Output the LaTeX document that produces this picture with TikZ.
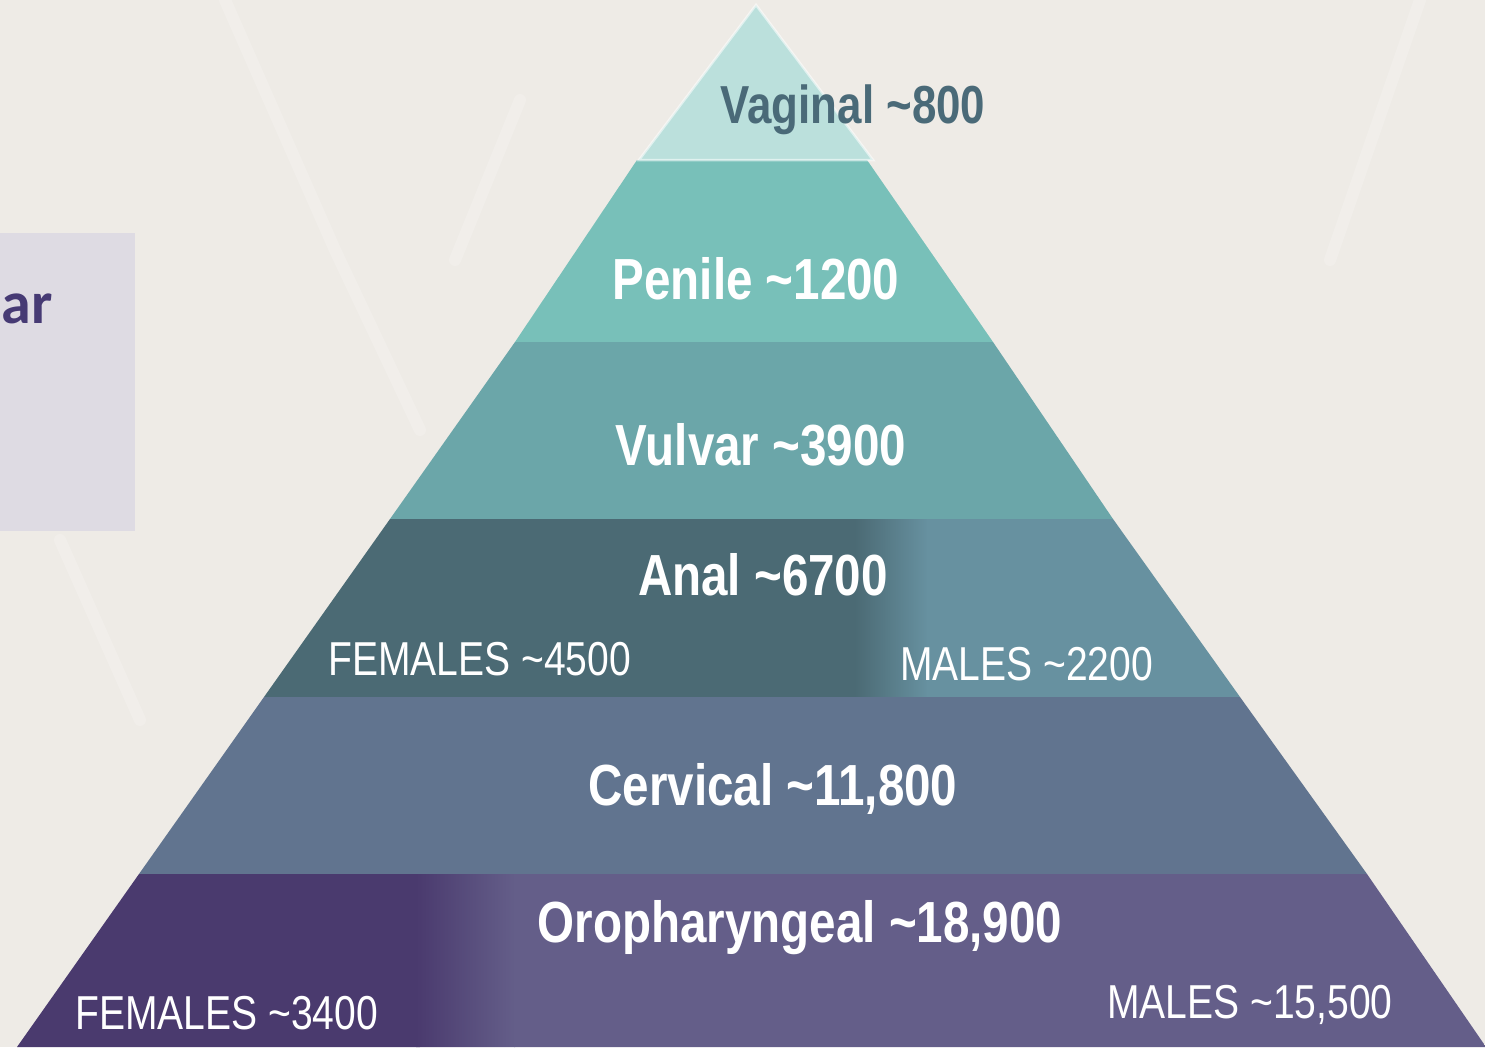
\documentclass[tikz,border=0pt]{standalone}
\usepackage{fontspec}
\newfontfamily\narrowfont[FakeStretch=0.82]{Liberation Sans}
\newfontfamily\carlitofont{Carlito}
\definecolor{bg}{HTML}{EEEBE6}
\definecolor{boxc}{HTML}{DEDBE3}
\definecolor{arc}{HTML}{463A74}
\definecolor{vagc}{HTML}{BBE0DC}
\definecolor{vagtext}{HTML}{4A6A78}
\definecolor{penc}{HTML}{78C0B9}
\definecolor{vulc}{HTML}{6BA6A9}
\definecolor{analL}{HTML}{4B6A74}
\definecolor{analR}{HTML}{6791A0}
\definecolor{cervc}{HTML}{61748F}
\definecolor{oroL}{HTML}{4A3A6E}
\definecolor{oroR}{HTML}{645E89}
\tikzset{
  biglabel/.style={anchor=base, inner sep=0pt, text=white, font=\narrowfont\bfseries\fontsize{58}{58}\selectfont},
  smalllabel/.style={anchor=base west, inner sep=0pt, text=white, font=\narrowfont\fontsize{47.6}{47.6}\selectfont},
  streak/.style={white, opacity=0.18, line width=12pt, line cap=round}
}
\begin{document}
\begin{tikzpicture}[x=1pt,y=-1pt]
\useasboundingbox (0,0) rectangle (1485,1047);
\fill[bg] (0,0) rectangle (1485,1047);
% faint background streaks
\draw[streak] (225,0) -- (335,250) -- (420,430);
\draw[streak] (520,100) -- (455,260);
\draw[streak] (1420,0) -- (1330,260);
\draw[streak] (60,540) -- (140,720);
% left box
\fill[boxc] (0,233) rectangle (135,531);
\node[anchor=base east, inner sep=0pt, text=arc, font=\carlitofont\bfseries\fontsize{60}{60}\selectfont] (ar) at (53,323) {ar};
% pyramid bands
\fill[penc] (637,160) -- (867,160) -- (993,342) -- (515,342) -- cycle;
\fill[vulc] (515,342) -- (993,342) -- (1113,519) -- (390,519) -- cycle;
\begin{scope}
  \clip (390,519) -- (1113,519) -- (1240,697) -- (264,697) -- cycle;
  \fill[analL] (250,515) rectangle (860,700);
  \shade[left color=analL, right color=analR] (855,515) rectangle (928,700);
  \fill[analR] (927,515) rectangle (1250,700);
\end{scope}
\fill[cervc] (264,697) -- (1240,697) -- (1367,874) -- (139,874) -- cycle;
\begin{scope}
  \clip (139,874) -- (1367,874) -- (1486,1047) -- (17,1047) -- cycle;
  \fill[oroL] (10,870) rectangle (420,1050);
  \shade[left color=oroL, right color=oroR] (416,870) rectangle (515,1050);
  \fill[oroR] (514,870) rectangle (1490,1050);
\end{scope}
% top triangle
\fill[vagc] (756,5) -- (873,160) -- (639,160) -- cycle;
\draw[white, opacity=0.55, line width=2.5pt, line join=miter] (756,5) -- (873,160) -- (639,160) -- cycle;
% labels
\node[biglabel, text=vagtext, font=\narrowfont\bfseries\fontsize{53.5}{53.5}\selectfont] (vag) at (853,123) {Vaginal \char"7E 800};
\node[biglabel] (pen) at (756,299) {Penile \char"7E 1200};
\node[biglabel] (vul) at (761,465) {Vulvar \char"7E 3900};
\node[biglabel] (anal) at (763,595) {Anal \char"7E 6700};
\node[smalllabel] (fanal) at (328,675) {FEMALES \char"7E 4500};
\node[smalllabel] (manal) at (900,680) {MALES \char"7E 2200};
\node[biglabel] (cerv) at (773,805) {Cervical \char"7E 11,800};
\node[biglabel] (oro) at (800,942) {Oropharyngeal \char"7E 18,900};
\node[smalllabel] (foro) at (75,1029) {FEMALES \char"7E 3400};
\node[smalllabel] (moro) at (1107,1018) {MALES \char"7E 15,500};
\end{tikzpicture}
\end{document}
